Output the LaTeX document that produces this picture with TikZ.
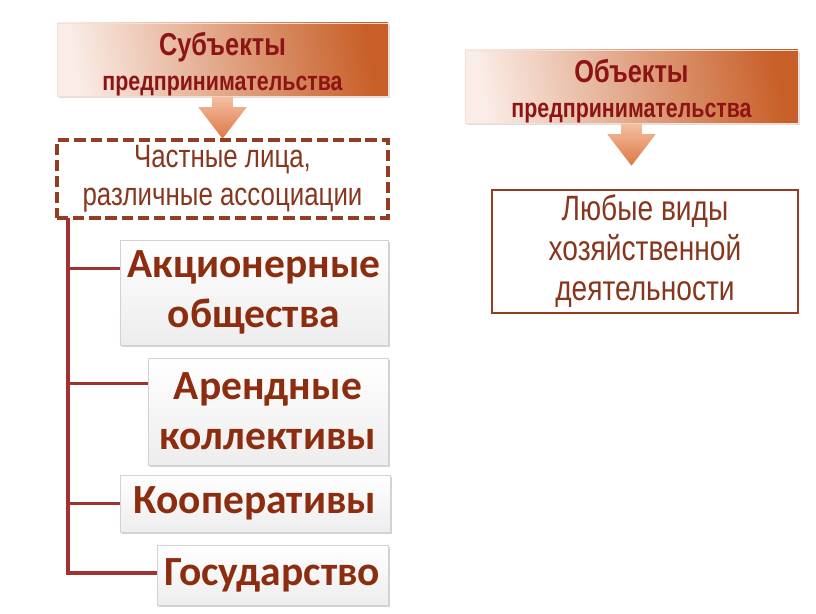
\documentclass[tikz,border=0pt]{standalone}
\usepackage{fontspec}
\setmainfont{Liberation Sans}
\newfontfamily\narrowfont[FakeStretch=0.8]{Liberation Sans}
\newfontfamily\calibrifont{Carlito}
\usepackage{xcolor}
\usetikzlibrary{shapes.arrows,shadows}

\definecolor{headtext}{RGB}{140,20,20}
\definecolor{boxtext}{RGB}{140,45,15}
\definecolor{plaintext}{RGB}{135,55,30}
\definecolor{linered}{RGB}{160,50,50}
\definecolor{frame}{RGB}{150,60,35}
\definecolor{headlight}{RGB}{250,236,230}
\definecolor{headdark}{RGB}{200,95,40}
\definecolor{arrowlight}{RGB}{245,190,160}
\definecolor{arrowdark}{RGB}{220,120,70}

\begin{document}
\begin{tikzpicture}[x=0.025cm,y=-0.025cm]
\tikzset{header/.style={rectangle,left color=headlight,right color=headdark,shading angle=100,
  draw=white!80!headdark,line width=0.6pt,
  drop shadow={opacity=0.25,shadow xshift=1.5pt,shadow yshift=-1.5pt},
  text=headtext,align=center,font=\narrowfont\bfseries\fontsize{19}{25}\selectfont,inner sep=0pt}}
\tikzset{downarrow/.style={single arrow,shape border rotate=270,top color=arrowlight,bottom color=arrowdark,
  draw=none,inner sep=0.25cm,minimum width=1.2cm,minimum height=1.05cm,single arrow tip angle=75,
  single arrow head extend=0.35cm}}
\tikzset{graybox/.style={rectangle,top color=white,bottom color=gray!14,draw=gray!35,line width=0.6pt,
  drop shadow={opacity=0.35,shadow xshift=1.5pt,shadow yshift=-1.5pt},
  text=boxtext,align=center,font=\calibrifont\bfseries\fontsize{29.5}{35.5}\selectfont,inner sep=0pt}}
\tikzset{plainbox/.style={rectangle,text=plaintext,align=center,
  font=\narrowfont\fontsize{23}{27}\selectfont,inner sep=0pt}}
\tikzset{branch/.style={draw=linered,line width=2.2pt}}

\useasboundingbox (0,0) rectangle (816,613);

% subjects
\node[header,minimum width=8.275cm,minimum height=1.775cm] (subj) at (222.5,59.5)
  {\rule{0pt}{23pt}{\fontsize{22.5}{25}\selectfont Субъекты}\\{\fontsize{19}{25}\selectfont предпринимательства}};
\node[downarrow,anchor=tail] (subjarr) at (subj.south) {};
\node[plainbox,draw=frame,dashed,line width=2.2pt,dash pattern=on 8pt off 3.5pt,
  minimum width=8.275cm,minimum height=1.95cm] (private) at (222.5,179)
  {Частные лица,\\различные ассоциации};

\node[graybox,minimum width=6.7cm,minimum height=2.625cm] (akc) at (254,292.5) {Акционерные\\общества};
\node[graybox,minimum width=6cm,minimum height=2.675cm] (arend) at (268,411.5) {Арендные\\коллективы};
\node[graybox,minimum width=6.75cm,minimum height=1.425cm] (koop) at (255,503.5) {Кооперативы};
\node[graybox,minimum width=5.775cm,minimum height=1.5cm] (gos) at (272.5,575) {Государство};

\coordinate (trunk) at (68,218);
\draw[branch] (trunk) |- ([yshift=0.6cm]akc.west);
\draw[branch] (trunk) |- ([yshift=0.71cm]arend.west);
\draw[branch] (trunk) |- (koop.west);
\draw[branch] (trunk) |- ([yshift=0.05cm]gos.west);

% objects
\node[header,minimum width=8.325cm,minimum height=1.825cm] (obj) at (631.5,86.5)
  {\rule{0pt}{23pt}{\fontsize{22.5}{25}\selectfont Объекты}\\{\fontsize{19}{25}\selectfont предпринимательства}};
\node[downarrow,anchor=tail] (objarr) at (obj.south) {};
\node[plainbox,draw=frame,line width=1.3pt,minimum width=7.65cm,minimum height=3.075cm,
  font=\narrowfont\fontsize{25}{28.5}\selectfont] (any) at (645,251.5)
  {Любые виды\\хозяйственной\\деятельности};

\end{tikzpicture}
\end{document}
